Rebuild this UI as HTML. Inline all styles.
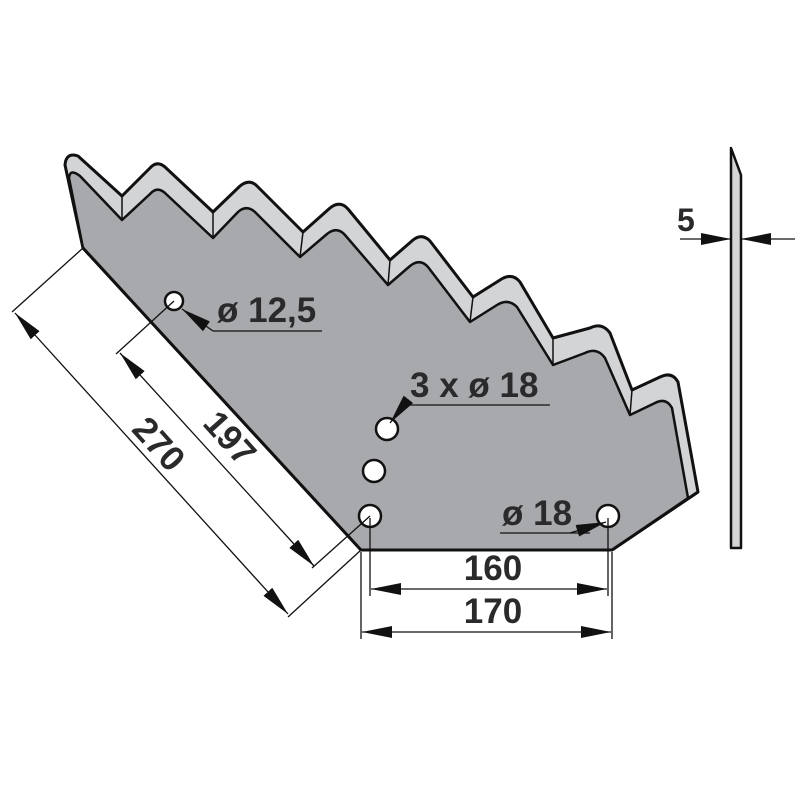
<!DOCTYPE html>
<html><head><meta charset="utf-8"><style>html,body{margin:0;padding:0;background:#fff}svg{display:block}</style></head><body>
<svg width="800" height="800" viewBox="0 0 800 800" xmlns="http://www.w3.org/2000/svg" font-family="Liberation Sans, sans-serif" font-weight="bold">
<defs>
<marker id="b" viewBox="0 0 30 12" refX="30" refY="6" markerWidth="30" markerHeight="12" markerUnits="userSpaceOnUse" orient="auto-start-reverse"><path d="M0,0 L30,6 L0,12 Z" fill="#111"/></marker>
</defs>
<path d="M83,248 L65,165 Q66,152 78,156 L122,196 L150,168 Q157,160 165,167 L213,212 L240,186 Q250,178 258,187 L303,232 L330,208 Q340,200 348,209 L390,260 L413,240 Q422,233 430,241 L473,297 L500,280 Q512,272 520,282 L553,338 L590,328 Q602,322 610,333 L632,390 L660,377 Q672,371 678,382 L698,492 L612,550 L361,550 Z" fill="#d3d4d6" stroke="#111" stroke-width="3" stroke-linejoin="round"/>
<path d="M83,248 L69,178 Q70,168 80,176 L122,220 L150,194 Q157,186 165,193 L213,238 L238,212 Q247,204 256,213 L300,257 L327,234 Q337,226 345,235 L388,285 L410,266 Q420,258 428,267 L470,322 L497,305 Q508,298 517,307 L553,365 L585,353 Q597,347 605,358 L630,415 L655,403 Q666,397 672,408 L688,498 L612,550 L361,550 Z" fill="#a8a9ac" stroke="#111" stroke-width="2.5" stroke-linejoin="round"/>
<g stroke="#111" stroke-width="1.5">
<line x1="122" y1="196" x2="122" y2="220"/><line x1="213" y1="212" x2="213" y2="238"/>
<line x1="303" y1="232" x2="300" y2="257"/><line x1="390" y1="260" x2="388" y2="285"/>
<line x1="473" y1="297" x2="470" y2="322"/><line x1="553" y1="338" x2="553" y2="365"/>
<line x1="632" y1="390" x2="630" y2="415"/><line x1="698" y1="492" x2="688" y2="498"/>
</g>
<path d="M83,248 L361,550 L612,550 L698,492" fill="none" stroke="#111" stroke-width="3"/>
<g fill="#fff" stroke="#111" stroke-width="2.5">
<circle cx="174" cy="301" r="9"/><circle cx="387" cy="429" r="11"/><circle cx="374" cy="471" r="11"/><circle cx="370" cy="516" r="11"/><circle cx="608" cy="516" r="11"/>
</g>
<g stroke="#111" stroke-width="1.3" fill="none">
<line x1="83" y1="248" x2="12" y2="312"/>
<line x1="361" y1="550" x2="288" y2="617"/>
<line x1="15" y1="313" x2="288" y2="614" marker-start="url(#b)" marker-end="url(#b)"/>
<line x1="174" y1="301" x2="116" y2="354"/>
<line x1="370" y1="516" x2="312" y2="568"/>
<line x1="120" y1="353" x2="314" y2="566" marker-start="url(#b)" marker-end="url(#b)"/>
<line x1="370" y1="518" x2="370" y2="596"/><line x1="608" y1="518" x2="608" y2="596"/>
<line x1="361" y1="552" x2="361" y2="639"/><line x1="612" y1="552" x2="612" y2="639"/>
<line x1="371" y1="589" x2="607" y2="589" marker-start="url(#b)" marker-end="url(#b)"/>
<line x1="362" y1="632" x2="611" y2="632" marker-start="url(#b)" marker-end="url(#b)"/>
<line x1="213" y1="331" x2="322" y2="331"/><line x1="213" y1="331" x2="182" y2="309" marker-end="url(#b)"/>
<line x1="404" y1="405" x2="550" y2="405"/><line x1="404" y1="405" x2="390" y2="423" marker-end="url(#b)"/>
<line x1="500" y1="533" x2="590" y2="533"/><line x1="570" y1="533" x2="606" y2="522" marker-end="url(#b)"/>
<line x1="680" y1="239" x2="731" y2="239" marker-end="url(#b)"/>
<line x1="795" y1="239" x2="741" y2="239" marker-end="url(#b)"/>
</g>
<path d="M731,148 L741,175 L741,548 L731,548 Z" fill="#d3d4d6" stroke="#111" stroke-width="2.5" stroke-linejoin="round"/>
<g fill="#2a2a2c">
<text x="217" y="322" font-size="35">ø 12,5</text>
<text x="410" y="397" font-size="35">3 x ø 18</text>
<text x="502" y="525" font-size="35">ø 18</text>
<text x="493" y="580" font-size="35" text-anchor="middle">160</text>
<text x="493" y="623" font-size="35" text-anchor="middle">170</text>
<text x="677" y="231" font-size="32">5</text>
<text transform="translate(150,452) rotate(48)" font-size="35" text-anchor="middle">270</text>
<text transform="translate(221,446) rotate(48)" font-size="35" text-anchor="middle">197</text>
</g>
</svg>
</body></html>
